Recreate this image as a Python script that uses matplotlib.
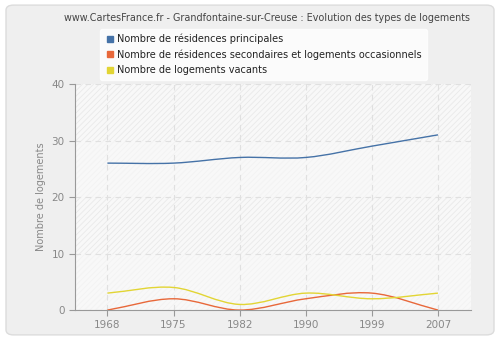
import numpy as np
import matplotlib
matplotlib.use("Agg")
import matplotlib.pyplot as plt
from matplotlib.path import Path
from matplotlib.patches import PathPatch, FancyBboxPatch
from matplotlib.lines import Line2D

annees = ["1968", "1975", "1982", "1990", "1999", "2007"]
principales = [26, 26, 27, 27, 29, 31]
secondaires = [0, 2, 0, 2, 3, 0]
vacants = [3, 4, 1, 3, 2, 3]

series = [
    ("Nombre de résidences principales", principales, "#4572a7"),
    ("Nombre de résidences secondaires et logements occasionnels", secondaires, "#e8683a"),
    ("Nombre de logements vacants", vacants, "#e2d534"),
]


def courbe_lisse(xs, ys):
    # spline de type Catmull-Rom dessinée en segments de Bézier cubiques
    xs = np.asarray(xs, float)
    ys = np.asarray(ys, float)
    n = len(xs)
    pente = np.zeros(n)
    for i in range(n):
        if i == 0:
            pente[i] = ys[1] - ys[0]
        elif i == n - 1:
            pente[i] = ys[-1] - ys[-2]
        else:
            pente[i] = (ys[i + 1] - ys[i - 1]) / 2
    verts = [(xs[0], ys[0])]
    codes = [Path.MOVETO]
    for i in range(n - 1):
        dx = xs[i + 1] - xs[i]
        verts += [(xs[i] + dx / 3, ys[i] + pente[i] / 3),
                  (xs[i + 1] - dx / 3, ys[i + 1] - pente[i + 1] / 3),
                  (xs[i + 1], ys[i + 1])]
        codes += [Path.CURVE4] * 3
    return Path(verts, codes)


plt.rcParams["hatch.color"] = "#ececec"
plt.rcParams["hatch.linewidth"] = 0.6

fig = plt.figure(figsize=(5, 3.4), dpi=100, facecolor="white")
fond = FancyBboxPatch((0.012, 0.015), 0.976, 0.97, boxstyle="round,pad=0,rounding_size=0.015",
                      transform=fig.transFigure, facecolor="#efefef", edgecolor="#dcdcdc",
                      linewidth=1, zorder=-10)
fig.patches.append(fond)

ax = fig.add_axes([0.15, 0.088, 0.792, 0.665])
ax.set_facecolor("#f8f8f8")
x = np.arange(len(annees))

for bas, haut in [(30, 40), (10, 20)]:
    ax.axhspan(bas, haut, facecolor="none", hatch="//////", edgecolor="#e9e9e9", linewidth=0, zorder=0)
for bas, haut in [(20, 30), (0, 10)]:
    ax.axhspan(bas, haut, facecolor="none", hatch="//////", edgecolor="#f2f2f2", linewidth=0, zorder=0)

for nom, valeurs, couleur in series:
    patch = PathPatch(courbe_lisse(x, valeurs), facecolor="none", edgecolor=couleur,
                      linewidth=1.0, zorder=3)
    ax.add_patch(patch)

ax.set_xlim(-0.49, 5.5)
ax.set_ylim(0, 40)
ax.set_xticks(x)
ax.set_xticklabels(annees)
ax.set_yticks([0, 10, 20, 30, 40])
ax.grid(True, color="#e0e0e0", linestyle=(0, (5, 4)), linewidth=0.8, zorder=1)
ax.set_axisbelow(True)

for cote in ["top", "right"]:
    ax.spines[cote].set_visible(False)
for cote in ["left", "bottom"]:
    ax.spines[cote].set_color("#999999")
ax.tick_params(colors="#999999", labelcolor="#888888", labelsize=7.5, length=4, width=0.8)
ax.set_ylabel("Nombre de logements", fontsize=7, color="#888888")

fig.text(0.535, 0.948, "www.CartesFrance.fr - Grandfontaine-sur-Creuse : Evolution des types de logements",
         ha="center", va="center", fontsize=6.9, color="#444444")

poignees = [Line2D([], [], marker="s", linestyle="none", markersize=4, color=c,
                   markeredgecolor=c) for _, _, c in series]
leg = fig.legend(poignees, [nom for nom, _, _ in series], loc="upper left",
                 bbox_to_anchor=(0.19, 0.93), fontsize=7, frameon=True, fancybox=True,
                 handletextpad=0.3, labelspacing=0.55, borderpad=0.5, handlelength=1.0)
leg.get_frame().set_facecolor("white")
leg.get_frame().set_edgecolor("white")
for t in leg.get_texts():
    t.set_color("#222222")

fig.savefig("out.png", dpi=100, facecolor=fig.get_facecolor())
